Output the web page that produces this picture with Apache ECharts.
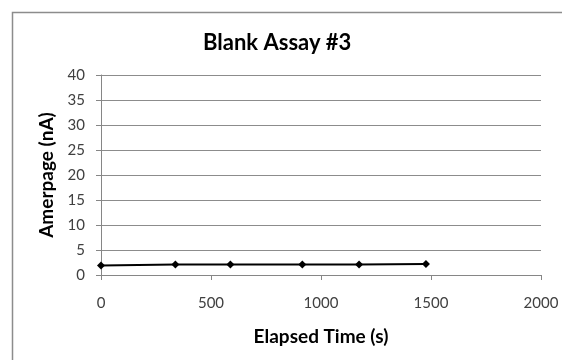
<!DOCTYPE html>
<html><head><meta charset="utf-8">
<script src="https://cdn.jsdelivr.net/npm/echarts@6/dist/echarts.min.js"></script>
<style>html,body{margin:0;padding:0;background:#fff}#c{width:562px;height:360px}</style>
</head><body><div id="c"></div>
<script>
const titleText = "Blank Assay #3";
const xName = "Elapsed Time (s)";
const yName = "Amerpage (nA)";
const timeValues = [0, 338, 588, 915, 1173, 1477];
const ampValues = [1.9, 2.1, 2.1, 2.1, 2.1, 2.2];

const chart = echarts.init(document.getElementById('c'));
const fontFam = 'Lato, "Open Sans", sans-serif';
chart.setOption({
  animation: false,
  backgroundColor: '#fff',
  graphic: [{
    type: 'rect', shape: {x: 12.5, y: 12.5, width: 700, height: 500},
    style: {fill: 'none', stroke: '#8c8c8c', lineWidth: 1.5}, silent: true
  }],
  title: {
    text: titleText, left: 198, top: 27,
    textStyle: {fontFamily: fontFam, fontWeight: 'bold', fontSize: 22, color: '#000'}
  },
  grid: {left: 101, right: 21, top: 75, bottom: 85},
  xAxis: {
    type: 'value', min: 0, max: 2000, interval: 500,
    name: xName, nameLocation: 'middle', nameGap: 52,
    nameTextStyle: {fontFamily: fontFam, fontWeight: 'bold', fontSize: 19, color: '#000'},
    axisLine: {show: true, lineStyle: {color: '#868686', width: 1}},
    axisTick: {show: true, length: 5, inside: false, lineStyle: {color: '#868686'}},
    axisLabel: {fontFamily: fontFam, fontSize: 15, color: '#404040', margin: 21,
      formatter: v => String(v)},
    splitLine: {show: false}
  },
  yAxis: {
    type: 'value', min: 0, max: 40, interval: 5,
    name: yName, nameLocation: 'middle', nameGap: 45, nameRotate: 90,
    nameTextStyle: {fontFamily: fontFam, fontWeight: 'bold', fontSize: 19, color: '#000'},
    axisLine: {show: true, lineStyle: {color: '#868686', width: 1}},
    axisTick: {show: true, length: 5, lineStyle: {color: '#868686'}},
    axisLabel: {fontFamily: fontFam, fontSize: 15, color: '#404040', margin: 16},
    splitLine: {show: true, lineStyle: {color: '#8c8c8c', width: 1}}
  },
  series: [{
    type: 'line',
    data: timeValues.map((t, i) => [t, ampValues[i]]),
    symbol: 'diamond', symbolSize: 8,
    itemStyle: {color: '#000'},
    lineStyle: {color: '#000', width: 2}
  }]
});
</script></body></html>
